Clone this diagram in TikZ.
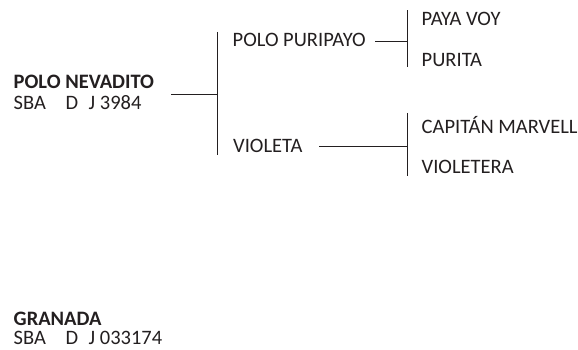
\documentclass[tikz,border=0pt]{standalone}
\usepackage{fontspec}
\setmainfont{Carlito}
\definecolor{ink}{HTML}{231F20}
\begin{document}
\begin{tikzpicture}[x=1pt,y=-1pt,
  lbl/.style={anchor=base west,inner sep=0pt,text=ink,font=\fontsize{20.5}{24}\selectfont},
  bold/.style={font=\fontsize{20.5}{24}\selectfont\bfseries},
  conn/.style={draw=ink,line width=1pt}]
\useasboundingbox (0,0) rectangle (578,350);
\newcommand{\regid}[1]{\makebox[52pt][l]{SBA}\makebox[23pt][l]{D}J #1}
% nodes
\node[lbl,bold] (nev) at (13.5,88.5) {POLO NEVADITO};
\node[lbl] (nevid) at (13.5,109.5) {\regid{3984}};
\node[lbl] (pp) at (232.5,46.5) {POLO PURIPAYO};
\node[lbl] (vio) at (233,153) {VIOLETA};
\node[lbl] (pv) at (421.5,26) {PAYA VOY};
\node[lbl] (pur) at (421.5,66.5) {PURITA};
\node[lbl] (cap) at (421.5,133) {CAPITÁN MARVELL};
\node[lbl] (vtr) at (421.5,173) {VIOLETERA};
\node[lbl,bold] (gra) at (13.5,325.5) {GRANADA};
\node[lbl] (graid) at (13.5,344.5) {\regid{033174}};
% connector coordinates
\coordinate (a0) at (171,95);
\coordinate (a1) at (217,95);
\coordinate (a1t) at (217,32);
\coordinate (a1b) at (217,154.5);
\coordinate (b0) at (375,41.5);
\coordinate (b1) at (407,41.5);
\coordinate (b1t) at (407,10.5);
\coordinate (b1b) at (407,67.5);
\coordinate (c0) at (319,146);
\coordinate (c1) at (407,146);
\coordinate (c1t) at (407,113);
\coordinate (c1b) at (407,176);
\draw[conn] (a0) -- (a1);
\draw[conn] (a1t) -- (a1b);
\draw[conn] (b0) -- (b1);
\draw[conn] (b1t) -- (b1b);
\draw[conn] (c0) -- (c1);
\draw[conn] (c1t) -- (c1b);
\end{tikzpicture}
\end{document}
